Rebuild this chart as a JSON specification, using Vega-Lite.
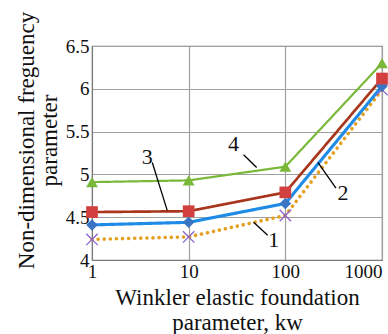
{
  "$schema": "https://vega.github.io/schema/vega-lite/v6.json",
  "autosize": {"type": "none"},
  "width": 290,
  "height": 214,
  "padding": {"left": 92, "top": 46, "right": 6, "bottom": 74},
  "background": "white",
  "config": {
    "font": "Liberation Serif",
    "view": {"stroke": "#7a7a7a", "strokeWidth": 1.2}
  },
  "datasets": {
    "series": [
      {"kw": 1, "f": 4.24, "s": "1"},
      {"kw": 10, "f": 4.27, "s": "1"},
      {"kw": 100, "f": 4.52, "s": "1"},
      {"kw": 1000, "f": 5.99, "s": "1"},
      {"kw": 1, "f": 4.41, "s": "2"},
      {"kw": 10, "f": 4.44, "s": "2"},
      {"kw": 100, "f": 4.66, "s": "2"},
      {"kw": 1000, "f": 6.03, "s": "2"},
      {"kw": 1, "f": 4.56, "s": "3"},
      {"kw": 10, "f": 4.57, "s": "3"},
      {"kw": 100, "f": 4.79, "s": "3"},
      {"kw": 1000, "f": 6.12, "s": "3"},
      {"kw": 1, "f": 4.91, "s": "4"},
      {"kw": 10, "f": 4.93, "s": "4"},
      {"kw": 100, "f": 5.09, "s": "4"},
      {"kw": 1000, "f": 6.3, "s": "4"}
    ],
    "leaders": [
      {"x": 37, "y": 5.23, "x2": 50.5, "y2": 5.08},
      {"x": 4.2, "y": 5.14, "x2": 6.0, "y2": 4.58},
      {"x": 217, "y": 5.14, "x2": 334, "y2": 4.84},
      {"x": 47, "y": 4.44, "x2": 65.6, "y2": 4.29}
    ],
    "labels": [
      {"x": 29.1, "y": 5.35, "t": "4"},
      {"x": 3.73, "y": 5.2, "t": "3"},
      {"x": 394, "y": 4.78, "t": "2"},
      {"x": 75.8, "y": 4.23, "t": "1"}
    ]
  },
  "layer": [
    {
      "data": {"name": "series"},
      "mark": {"type": "line", "strokeCap": "round", "clip": false},
      "encoding": {
        "x": {
          "field": "kw", "type": "quantitative",
          "scale": {"type": "log", "domain": [1, 1000]},
          "axis": {
            "values": [1, 10, 100, 1000], "format": "d",
            "labelFontSize": 19, "labelColor": "#111", "labelPadding": 2,
            "labelAlign": {"condition": {"test": "datum.value == 1000", "value": "right"}, "value": "center"},
            "ticks": false, "domainColor": "#7a7a7a",
            "gridColor": "#a0a0a0", "gridWidth": 1.2,
            "labelFlush": false,
            "title": ["Winkler elastic foundation", "parameter, kw"],
            "titleFontSize": 23, "titleFontWeight": "normal", "titleColor": "#111",
            "titleLineHeight": 25, "titlePadding": 5
          }
        },
        "y": {
          "field": "f", "type": "quantitative",
          "scale": {"domain": [4, 6.5], "nice": false, "zero": false},
          "axis": {
            "values": [4, 4.5, 5, 5.5, 6, 6.5], "format": "~g",
            "labelFontSize": 19, "labelColor": "#111", "labelPadding": 3,
            "ticks": false, "domainColor": "#7a7a7a",
            "gridColor": "#a0a0a0", "gridWidth": 1.2,
            "title": ["Non-dimensional freguency", "parameter"],
            "titleFontSize": 23, "titleFontWeight": "normal", "titleColor": "#111",
            "titleLineHeight": 23, "titlePadding": 4,
            "titleY": 94
          }
        },
        "stroke": {
          "field": "s", "type": "nominal", "legend": null,
          "scale": {"domain": ["1", "2", "3", "4"], "range": ["#e3a01f", "#1f8be6", "#a8361c", "#7ab83a"]}
        },
        "strokeDash": {
          "field": "s", "type": "nominal", "legend": null,
          "scale": {"domain": ["1", "2", "3", "4"], "range": [[0.1, 6], [1, 0], [1, 0], [1, 0]]}
        },
        "strokeWidth": {
          "field": "s", "type": "nominal", "legend": null,
          "scale": {"domain": ["1", "2", "3", "4"], "range": [3.6, 2.2, 2.2, 2.2]}
        }
      }
    },
    {
      "data": {"name": "series"},
      "mark": {"type": "point", "filled": true, "opacity": 1, "clip": false},
      "encoding": {
        "x": {"field": "kw", "type": "quantitative"},
        "y": {"field": "f", "type": "quantitative"},
        "shape": {
          "field": "s", "type": "nominal", "legend": null,
          "scale": {"domain": ["1", "2", "3", "4"], "range": [
            "M-0.92,-1.08L0,-0.16L0.92,-1.08L1.08,-0.92L0.16,0L1.08,0.92L0.92,1.08L0,0.16L-0.92,1.08L-1.08,0.92L-0.16,0L-1.08,-0.92Z",
            "diamond", "square", "triangle-up"]}
        },
        "fill": {
          "field": "s", "type": "nominal", "legend": null,
          "scale": {"domain": ["1", "2", "3", "4"], "range": ["#8b62c9", "#3b74c2", "#d23f3f", "#7ab83a"]}
        },
        "size": {
          "field": "s", "type": "nominal", "legend": null,
          "scale": {"domain": ["1", "2", "3", "4"], "range": [130, 140, 170, 270]}
        }
      }
    },
    {
      "data": {"name": "leaders"},
      "mark": {"type": "rule", "color": "#000", "strokeWidth": 1.3},
      "encoding": {
        "x": {"field": "x", "type": "quantitative"},
        "y": {"field": "y", "type": "quantitative"},
        "x2": {"field": "x2"},
        "y2": {"field": "y2"}
      }
    },
    {
      "data": {"name": "labels"},
      "mark": {"type": "text", "fontSize": 22, "color": "#111", "align": "center", "baseline": "middle", "clip": false},
      "encoding": {
        "x": {"field": "x", "type": "quantitative"},
        "y": {"field": "y", "type": "quantitative"},
        "text": {"field": "t"}
      }
    }
  ]
}
